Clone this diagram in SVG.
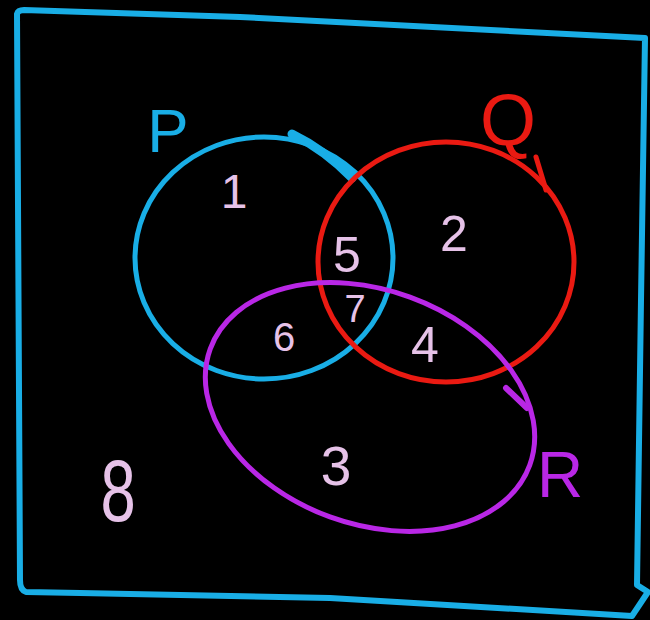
<svg xmlns="http://www.w3.org/2000/svg" width="650" height="620" viewBox="0 0 650 620">
<style>
.blue{fill:none;stroke:#19aee6;stroke-linecap:round;stroke-linejoin:round}
.red{fill:none;stroke:#ea1a12;stroke-linecap:round;stroke-linejoin:round}
.pur{fill:none;stroke:#b927e6;stroke-linecap:round;stroke-linejoin:round}
.num{font-family:"Liberation Sans",Arial,sans-serif;fill:#e6c2e8;text-anchor:middle}
.lab{font-family:"Liberation Sans",Arial,sans-serif;text-anchor:middle}
</style>
<rect width="650" height="620" fill="#000"/>
<g id="frame">
<path class="blue" stroke-width="6" d="M17,14 Q18,10 24,10 L85,12 L240,17 L645,38 L641,300 L637,585 L648,592 L632,616 L330,598 L80,593 L26,592 Q20,590 20,580 Z"/>
</g>
<g id="P">
<ellipse class="blue" stroke-width="5" cx="264" cy="258" rx="129" ry="121"/>
<path class="blue" stroke-width="9" d="M292,134 Q325,150 352,178"/>
<text class="lab" x="168" y="152" font-size="62" fill="#19aee6">P</text>
</g>
<g id="Q">
<ellipse class="red" stroke-width="5" cx="446" cy="262" rx="128" ry="120"/>
<path class="red" stroke-width="5" d="M536,157 L546,190"/>
<text class="lab" x="508" y="145" font-size="72" fill="#ea1a12">Q</text>
</g>
<g id="R">
<ellipse class="pur" stroke-width="5" cx="370" cy="407" rx="170" ry="117" transform="rotate(20 370 407)"/>
<path class="pur" stroke-width="6" d="M506,388 L527,408"/>
<text class="lab" x="560" y="497" font-size="64" fill="#b927e6">R</text>
</g>
<g id="regions">
<text class="num" x="234" y="208" font-size="48">1</text>
<text class="num" x="454" y="251" font-size="50">2</text>
<text class="num" x="347" y="272" font-size="50">5</text>
<text class="num" x="355" y="322" font-size="38">7</text>
<text class="num" x="284" y="351" font-size="40">6</text>
<text class="num" x="425" y="362" font-size="50">4</text>
<text class="num" x="336" y="485" font-size="55">3</text>
<text class="num" x="0" y="0" font-size="88" transform="translate(118 521) scale(0.72 1)">8</text>
</g>
</svg>
